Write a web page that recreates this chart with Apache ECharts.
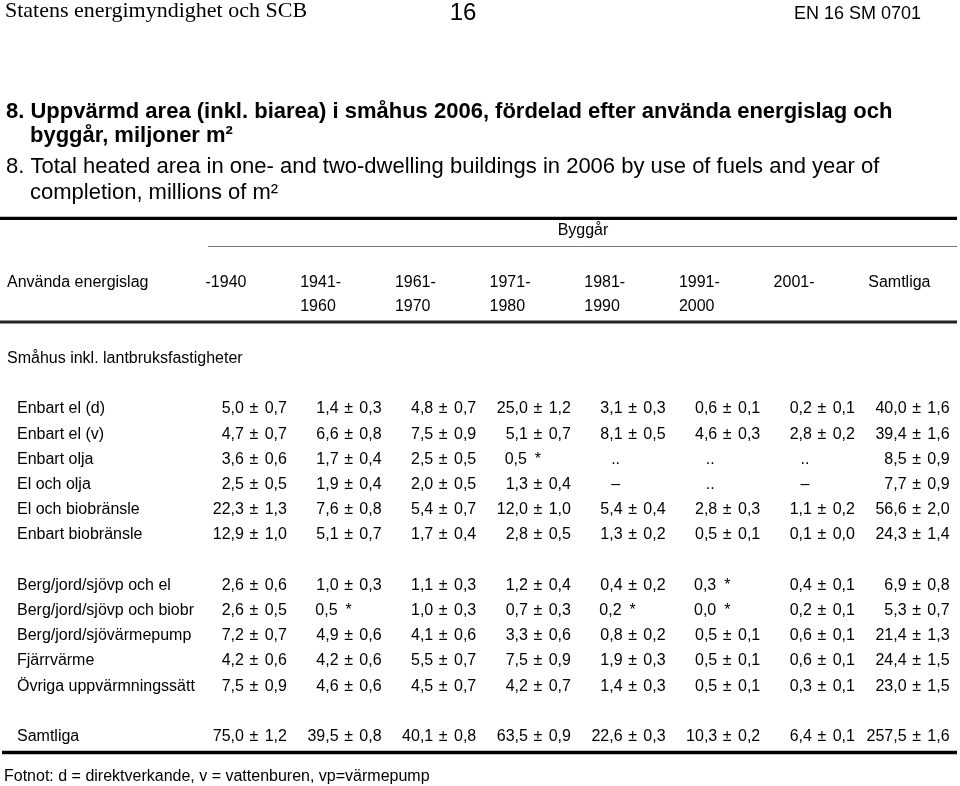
<!DOCTYPE html>
<html><head><meta charset="utf-8">
<script src="https://cdn.jsdelivr.net/npm/echarts@6/dist/echarts.min.js"></script>
<style>html,body{margin:0;padding:0;background:#fff;}#c{width:960px;height:786px;}</style>
</head><body><div id="c"></div>
<script>
// ---- column headers (year of completion) ----
const columns = ['-1940', '1941-\n1960', '1961-\n1970', '1971-\n1980', '1981-\n1990', '1991-\n2000', '2001-', 'Samtliga'];

// ---- row categories (blank entries are spacer rows) ----
const rows = ['Använda energislag', '', '', 'Småhus inkl. lantbruksfastigheter', '',
  'Enbart el (d)', 'Enbart el (v)', 'Enbart olja', 'El och olja', 'El och biobränsle', 'Enbart biobränsle', '',
  'Berg/jord/sjövp och el', 'Berg/jord/sjövp och biobr', 'Berg/jord/sjövärmepump', 'Fjärrvärme', 'Övriga uppvärmningssätt', '',
  'Samtliga'];

// ---- values: [estimate, margin of error]; '*' = uncertain, '..' = too few obs, '–' = none ----
const enbartElD   = [[5.0,0.7],[1.4,0.3],[4.8,0.7],[25.0,1.2],[3.1,0.3],[0.6,0.1],[0.2,0.1],[40.0,1.6]];
const enbartElV   = [[4.7,0.7],[6.6,0.8],[7.5,0.9],[5.1,0.7],[8.1,0.5],[4.6,0.3],[2.8,0.2],[39.4,1.6]];
const enbartOlja  = [[3.6,0.6],[1.7,0.4],[2.5,0.5],[0.5,'*'],['..'],['..'],['..'],[8.5,0.9]];
const elOchOlja   = [[2.5,0.5],[1.9,0.4],[2.0,0.5],[1.3,0.4],['–'],['..'],['–'],[7.7,0.9]];
const elOchBio    = [[22.3,1.3],[7.6,0.8],[5.4,0.7],[12.0,1.0],[5.4,0.4],[2.8,0.3],[1.1,0.2],[56.6,2.0]];
const enbartBio   = [[12.9,1.0],[5.1,0.7],[1.7,0.4],[2.8,0.5],[1.3,0.2],[0.5,0.1],[0.1,0.0],[24.3,1.4]];
const bergOchEl   = [[2.6,0.6],[1.0,0.3],[1.1,0.3],[1.2,0.4],[0.4,0.2],[0.3,'*'],[0.4,0.1],[6.9,0.8]];
const bergOchBio  = [[2.6,0.5],[0.5,'*'],[1.0,0.3],[0.7,0.3],[0.2,'*'],[0.0,'*'],[0.2,0.1],[5.3,0.7]];
const bergVp      = [[7.2,0.7],[4.9,0.6],[4.1,0.6],[3.3,0.6],[0.8,0.2],[0.5,0.1],[0.6,0.1],[21.4,1.3]];
const fjarrvarme  = [[4.2,0.6],[4.2,0.6],[5.5,0.7],[7.5,0.9],[1.9,0.3],[0.5,0.1],[0.6,0.1],[24.4,1.5]];
const ovriga      = [[7.5,0.9],[4.6,0.6],[4.5,0.7],[4.2,0.7],[1.4,0.3],[0.5,0.1],[0.3,0.1],[23.0,1.5]];
const samtliga    = [[75.0,1.2],[39.5,0.8],[40.1,0.8],[63.5,0.9],[22.6,0.3],[10.3,0.2],[6.4,0.1],[257.5,1.6]];

const tableRows = [
  ['Enbart el (d)', enbartElD], ['Enbart el (v)', enbartElV], ['Enbart olja', enbartOlja],
  ['El och olja', elOchOlja], ['El och biobränsle', elOchBio], ['Enbart biobränsle', enbartBio],
  ['Berg/jord/sjövp och el', bergOchEl], ['Berg/jord/sjövp och biobr', bergOchBio],
  ['Berg/jord/sjövärmepump', bergVp], ['Fjärrvärme', fjarrvarme], ['Övriga uppvärmningssätt', ovriga],
  ['Samtliga', samtliga]
];

const FONT = '"Liberation Sans", Arial, sans-serif';
const FS = 16;
const fmt = v => v.toFixed(1).replace('.', ',');

const cells = [];
tableRows.forEach(([name, vals]) => {
  const ri = rows.indexOf(name);
  vals.forEach((c, ci) => cells.push({ ci, ri, c }));
});
const cellData = cells.map(d => [d.ci, d.ri]);

const headerCells = [];
columns.forEach((lab, ci) => lab.split('\n').forEach((t, li) => headerCells.push({ ci, ri: li, t })));
const headerData = headerCells.map(d => [d.ci, d.ri]);

function txt(text, x, y, align, extra) {
  return { type: 'text', style: Object.assign({ text, x, y, align, verticalAlign: 'middle',
    fontSize: FS, fontFamily: FONT, fill: '#000' }, extra || {}) };
}

const chart = echarts.init(document.getElementById('c'), null, { renderer: 'canvas' });
chart.setOption({
  animation: false,
  backgroundColor: '#fff',
  grid: { left: 192.2, top: 270.4, width: 757.4, height: 478.8 },
  xAxis: { type: 'category', data: columns, axisLine: { show: false }, axisTick: { show: false },
    axisLabel: { show: false }, splitLine: { show: false } },
  yAxis: { type: 'category', data: rows, inverse: true, axisLine: { show: false }, axisTick: { show: false },
    splitLine: { show: false },
    axisLabel: { interval: 0, align: 'left', margin: 185.2, color: '#000', fontSize: FS, fontFamily: FONT,
      formatter: (v, i) => (i < 5 || v === '') ? v : '{ind|' + v + '}',
      rich: { ind: { padding: [0, 0, 0, 10], fontSize: FS, fontFamily: FONT, color: '#000' } } } },
  series: [
    { type: 'custom', data: cellData, silent: true,
      renderItem(params, api) {
        const d = cells[params.dataIndex];
        const p = api.coord([api.value(0), api.value(1)]);
        const w = api.size([1, 0])[0];
        const R = p[0] + w / 2, y = p[1];
        const c = d.c, children = [];
        if (typeof c[0] === 'string') {
          children.push(txt(c[0], R - 50, y, 'center'));
        } else if (c[1] === '*') {
          children.push(txt(fmt(c[0]), R - 44, y, 'right'));
          children.push(txt('*', R - 33, y, 'center'));
        } else {
          children.push(txt(fmt(c[0]), R - 43, y, 'right'));
          children.push(txt('±', R - 33, y, 'center'));
          children.push(txt(fmt(c[1]), R, y, 'right'));
        }
        return { type: 'group', children };
      } },
    { type: 'custom', data: headerData, silent: true,
      renderItem(params, api) {
        const d = headerCells[params.dataIndex];
        const p = api.coord([api.value(0), api.value(1)]);
        return txt(d.t, p[0] - 34, p[1] - (d.ri === 1 ? 2 : 0), 'left');
      } }
  ],
  graphic: [
    { type: 'text', left: 5, top: 0, style: { text: 'Statens energimyndighet och SCB', fontSize: 22, fontFamily: '"Liberation Serif", "Times New Roman", serif', fill: '#000' } },
    { type: 'text', x: 463, y: 13, style: { text: '16', align: 'center', verticalAlign: 'middle', fontSize: 24, fontFamily: '"Liberation Sans Narrow", "Arial Narrow", "Liberation Sans", sans-serif', fill: '#000' } },
    { type: 'text', x: 794, y: 14, style: { text: 'EN 16 SM 0701', align: 'left', verticalAlign: 'middle', fontSize: 18, fontFamily: '"Liberation Sans Narrow", "Arial Narrow", "Liberation Sans", sans-serif', fill: '#000' } },
    { type: 'text', x: 6, y: 111.7, style: { text: '8. Uppvärmd area (inkl. biarea) i småhus 2006, fördelad efter använda energislag och', verticalAlign: 'middle', fontSize: 22, fontWeight: 'bold', fontFamily: FONT, fill: '#000' } },
    { type: 'text', x: 30, y: 136, style: { text: 'byggår, miljoner m²', verticalAlign: 'middle', fontSize: 22, fontWeight: 'bold', fontFamily: FONT, fill: '#000' } },
    { type: 'text', x: 6, y: 166.7, style: { text: '8. Total heated area in one- and two-dwelling buildings in 2006 by use of fuels and year of', verticalAlign: 'middle', fontSize: 22, fontFamily: FONT, fill: '#000' } },
    { type: 'text', x: 30, y: 192.7, style: { text: 'completion, millions of m²', verticalAlign: 'middle', fontSize: 22, fontFamily: FONT, fill: '#000' } },
    { type: 'text', x: 583, y: 231, style: { text: 'Byggår', align: 'center', verticalAlign: 'middle', fontSize: FS, fontFamily: FONT, fill: '#000' } },
    { type: 'text', x: 4, y: 777, style: { text: 'Fotnot: d = direktverkande, v = vattenburen, vp=värmepump', verticalAlign: 'middle', fontSize: FS, fontFamily: FONT, fill: '#000' } },
    { type: 'line', shape: { x1: 0, y1: 218.3, x2: 957, y2: 218.3 }, style: { stroke: '#000', lineWidth: 3.3 } },
    { type: 'line', shape: { x1: 208, y1: 246.5, x2: 957, y2: 246.5 }, style: { stroke: '#777', lineWidth: 1 } },
    { type: 'line', shape: { x1: 0, y1: 322, x2: 957, y2: 322 }, style: { stroke: '#222', lineWidth: 3 } },
    { type: 'line', shape: { x1: 2, y1: 752.5, x2: 957, y2: 752.5 }, style: { stroke: '#000', lineWidth: 3.5 } }
  ]
});
</script></body></html>
